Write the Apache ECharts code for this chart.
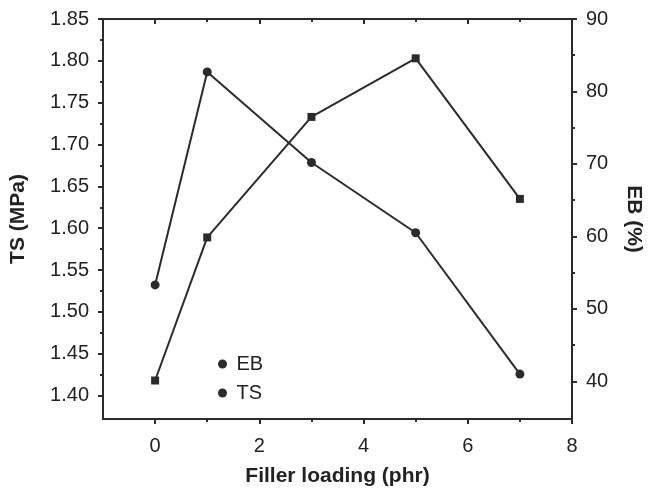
<!DOCTYPE html>
<html>
<head>
<meta charset="utf-8">
<script src="https://cdn.jsdelivr.net/npm/echarts@6/dist/echarts.min.js"></script>
<style>
  html, body { margin: 0; padding: 0; background: #fff; }
  #chart { width: 652px; height: 492px; }
</style>
</head>
<body>
<div id="chart"></div>
<script>
// filler loading (phr) and the two measured properties
const loading = [0, 1, 3, 5, 7];
const tsValues = [1.418, 1.589, 1.733, 1.803, 1.635];
const ebValues = [53.3, 82.7, 70.2, 60.5, 41.0];

// tick positions
const xMajorTicks = [0, 2, 4, 6, 8];
const xMinorTicks = [1, 3, 5, 7];
const tsMajorTicks = [1.40, 1.45, 1.50, 1.55, 1.60, 1.65, 1.70, 1.75, 1.80, 1.85];
const tsMinorTicks = [1.425, 1.475, 1.525, 1.575, 1.625, 1.675, 1.725, 1.775, 1.825];
const ebMajorTicks = [40, 50, 60, 70, 80, 90];
const ebMinorTicks = [45, 55, 65, 75, 85];

const ink = '#2b2b2b';
const font = 'Liberation Sans, Arial, Helvetica, sans-serif';

const chart = echarts.init(document.getElementById('chart'), null, { renderer: 'canvas' });

function xAxisDef(pos, ticks, len, inside, withLabels) {
    return {
        type: 'value',
        position: pos,
        min: -1,
        max: 8,
        axisLine: { show: withLabels || pos === 'top', onZero: false, lineStyle: { color: ink, width: 2 } },
        axisTick: { show: true, inside: inside, length: len, customValues: ticks, lineStyle: { color: ink, width: 2 } },
        axisLabel: withLabels ? {
            show: true, customValues: ticks, margin: 17, color: '#222',
            fontSize: 20, fontFamily: font
        } : { show: false },
        splitLine: { show: false },
        name: withLabels ? 'Filler loading (phr)' : '',
        nameLocation: 'middle',
        nameGap: 47,
        nameTextStyle: { fontSize: 21, fontWeight: 'bold', color: '#222', fontFamily: font }
    };
}

function yAxisDef(pos, min, max, ticks, len, withLabels, name, fmt) {
    return {
        type: 'value',
        position: pos,
        min: min,
        max: max,
        axisLine: { show: withLabels, onZero: false, lineStyle: { color: ink, width: 2 } },
        axisTick: { show: true, inside: false, length: len, customValues: ticks, lineStyle: { color: ink, width: 2 } },
        axisLabel: withLabels ? {
            show: true, customValues: ticks, margin: 14, color: '#222',
            fontSize: 20, fontFamily: font, formatter: fmt
        } : { show: false },
        splitLine: { show: false },
        name: withLabels ? name : '',
        nameLocation: 'middle',
        nameRotate: pos === 'right' ? -90 : 90,
        nameGap: pos === 'right' ? 51 : 74,
        nameTextStyle: { fontSize: 21, fontWeight: 'bold', color: '#222', fontFamily: font }
    };
}

const option = {
    backgroundColor: '#fff',
    animation: false,
    grid: { left: 102, right: 80, top: 19, bottom: 69, containLabel: false },
    legend: {
        orient: 'vertical',
        left: 213,
        top: 349,
        itemWidth: 10,
        itemHeight: 9,
        itemGap: 9,
        textStyle: { fontSize: 20, color: '#222', fontFamily: font, padding: [0, 0, 0, 4] },
        data: [
            { name: 'EB', icon: 'circle' },
            { name: 'TS', icon: 'circle' }
        ]
    },
    xAxis: [
        xAxisDef('bottom', xMajorTicks, 5, false, true),
        xAxisDef('bottom', xMinorTicks, 3, false, false),
        xAxisDef('top', xMajorTicks, 5, true, false),
        xAxisDef('top', xMinorTicks, 3, true, false)
    ],
    yAxis: [
        yAxisDef('left', 1.372, 1.85, tsMajorTicks, 5, true, 'TS (MPa)', v => v.toFixed(2)),
        yAxisDef('left', 1.372, 1.85, tsMinorTicks, 3, false, '', null),
        yAxisDef('right', 34.8, 90, ebMajorTicks, 5, true, 'EB (%)', v => String(v)),
        yAxisDef('right', 34.8, 90, ebMinorTicks, 3, false, '', null)
    ],
    series: [
        {
            name: 'EB',
            type: 'line',
            xAxisIndex: 0,
            yAxisIndex: 2,
            data: loading.map((x, i) => [x, ebValues[i]]),
            symbol: 'circle',
            symbolSize: 9,
            itemStyle: { color: ink },
            lineStyle: { color: ink, width: 2 }
        },
        {
            name: 'TS',
            type: 'line',
            xAxisIndex: 0,
            yAxisIndex: 0,
            data: loading.map((x, i) => [x, tsValues[i]]),
            symbol: 'rect',
            symbolSize: 8,
            itemStyle: { color: ink },
            lineStyle: { color: ink, width: 2 }
        }
    ]
};

chart.setOption(option);
</script>
</body>
</html>
